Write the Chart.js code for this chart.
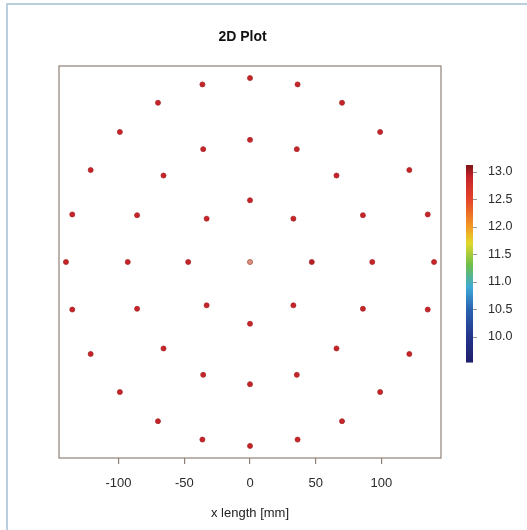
<!DOCTYPE html>
<html>
<head>
<meta charset="utf-8">
<script src="https://cdn.jsdelivr.net/npm/chart.js@4"></script>
<style>
  body { margin: 0; background: #fff; }
  #wrap { position: relative; width: 527px; height: 530px; }
  #frame {
    position: absolute; left: 6px; top: 3px; right: 0; bottom: 0;
    border-top: 2px solid #b9cfdd; border-left: 2px solid #b9cfdd;
    pointer-events: none;
  }
</style>
</head>
<body>
<div id="wrap">
  <canvas id="plot" width="527" height="530"></canvas>
  <div id="frame"></div>
</div>
<script>
'use strict';

// measuring points (x, y in mm) : centre, ring 47, ring 93, ring 140
const xPos = [
  0,
  0, 33, 47, 33, 0, -33, -47, -33,
  0, 35.6, 65.8, 85.9, 93, 85.9, 65.8, 35.6, 0, -35.6, -65.8, -85.9, -93, -85.9, -65.8, -35.6,
  0, 36.2, 70, 99, 121.2, 135.2, 140, 135.2, 121.2, 99, 70, 36.2,
  0, -36.2, -70, -99, -121.2, -135.2, -140, -135.2, -121.2, -99, -70, -36.2
];
const yPos = [
  0,
  47, 33, 0, -33, -47, -33, 0, 33,
  93, 85.9, 65.8, 35.6, 0, -35.6, -65.8, -85.9, -93, -85.9, -65.8, -35.6, 0, 35.6, 65.8, 85.9,
  140, 135.2, 121.2, 99, 70, 36.2, 0, -36.2, -70, -99, -121.2, -135.2,
  -140, -135.2, -121.2, -99, -70, -36.2, 0, 36.2, 70, 99, 121.2, 135.2
];
// measured value at each point (colour scale)
const thickness = [
  12.7,
  12.9, 12.9, 12.95, 12.9, 12.9, 12.9, 12.9, 12.9,
  12.9, 12.9, 12.9, 12.9, 12.9, 12.9, 12.9, 12.9, 12.9, 12.9, 12.9, 12.9, 12.9, 12.9, 12.9, 12.9,
  12.9, 12.9, 12.9, 12.9, 12.9, 12.9, 12.9, 12.9, 12.9, 12.9, 12.9, 12.9,
  12.9, 12.9, 12.9, 12.9, 12.9, 12.9, 12.9, 12.9, 12.9, 12.9, 12.9, 12.9
];

const xTicks = [-100, -50, 0, 50, 100];
const cbTicks = [10.0, 10.5, 11.0, 11.5, 12.0, 12.5, 13.0];
const cbRange = [9.53, 13.12];

// colour map stops (value, colour)
const cmapValues = [9.53, 10.0, 10.5, 10.9, 11.3, 11.7, 12.0, 12.5, 12.9, 13.12];
const cmapColours = ['#1f1f6b', '#23348a', '#2a63b0', '#3fa9d6', '#6cbf4a',
  '#e2d92a', '#f39a24', '#e4432a', '#c62428', '#7d1416'];

function hexToRgb(h) {
  return [parseInt(h.substr(1, 2), 16), parseInt(h.substr(3, 2), 16), parseInt(h.substr(5, 2), 16)];
}

function colourFor(v) {
  for (let i = 0; i < cmapValues.length - 1; i++) {
    if (v <= cmapValues[i + 1]) {
      let t = Math.max(0, (v - cmapValues[i]) / (cmapValues[i + 1] - cmapValues[i]));
      let a = hexToRgb(cmapColours[i]);
      let b = hexToRgb(cmapColours[i + 1]);
      let c = a.map((x, k) => Math.round(x + (b[k] - x) * t));
      return `rgb(${c[0]},${c[1]},${c[2]})`;
    }
  }
  return cmapColours[cmapColours.length - 1];
}

const points = [];
for (let i = 0; i < xPos.length; i++) {
  points.push({ x: xPos[i], y: yPos[i] });
}

const boxColour = '#8f8077';
const fontFamily = "'Liberation Sans', Arial, sans-serif";

// frame, title and colour bar
const extras = {
  id: 'extras',
  beforeDatasetsDraw(chart) {
    const ctx = chart.ctx;
    const a = chart.chartArea;
    ctx.save();
    ctx.strokeStyle = boxColour;
    ctx.lineWidth = 1.2;
    ctx.strokeRect(a.left, a.top, a.right - a.left, a.bottom - a.top);
    ctx.restore();
  },
  afterDraw(chart) {
    const ctx = chart.ctx;
    const cb = chart.scales.cb;
    ctx.save();
    // title
    ctx.fillStyle = '#111';
    ctx.font = `bold 14px ${fontFamily}`;
    ctx.textAlign = 'center';
    ctx.textBaseline = 'middle';
    ctx.fillText('2D Plot', 242.5, 37);

    // colour bar
    let top = cb.getPixelForValue(cbRange[1]);
    let bottom = cb.getPixelForValue(cbRange[0]);
    let left = cb.left + 25;
    let grad = ctx.createLinearGradient(0, bottom, 0, top);
    for (let i = 0; i < cmapValues.length; i++) {
      let t = (cmapValues[i] - cbRange[0]) / (cbRange[1] - cbRange[0]);
      grad.addColorStop(Math.min(1, Math.max(0, t)), cmapColours[i]);
    }
    ctx.fillStyle = grad;
    ctx.fillRect(left, top, 7, bottom - top);
    ctx.strokeStyle = '#999';
    ctx.lineWidth = 1;
    for (let i = 0; i < cbTicks.length; i++) {
      let y = Math.round(cb.getPixelForValue(cbTicks[i])) + 0.5;
      ctx.beginPath();
      ctx.moveTo(left + 7, y);
      ctx.lineTo(left + 11, y);
      ctx.stroke();
    }
    ctx.restore();
  }
};

const ctx = document.getElementById('plot').getContext('2d');
const chart = new Chart(ctx, {
  type: 'scatter',
  data: {
    datasets: [{
      label: 'thickness',
      data: points,
      pointRadius: 2.5,
      pointBorderWidth: 0.8,
      pointBackgroundColor: thickness.map((v, i) => i === 0 ? '#d99484' : colourFor(v)),
      pointBorderColor: thickness.map((v, i) => i === 0 ? '#a94a3c' : '#a8262a'),
    }]
  },
  plugins: [extras],
  options: {
    responsive: false,
    animation: false,
    layout: { padding: { left: 59, right: 0, top: 66, bottom: 0 } },
    plugins: {
      legend: { display: false },
      title: { display: false },
      tooltip: { enabled: false }
    },
    scales: {
      x: {
        type: 'linear',
        min: -145.3,
        max: 145.3,
        afterBuildTicks: (scale) => { scale.ticks = xTicks.map(v => ({ value: v })); },
        afterFit: (scale) => { scale.height = 72; },
        border: { display: false },
        grid: { drawOnChartArea: false, drawTicks: true, tickLength: 6, color: boxColour, lineWidth: 1.2 },
        ticks: { color: '#2a2a2a', padding: 12, font: { family: fontFamily, size: 13 } },
        title: {
          display: true,
          text: 'x length [mm]',
          color: '#222',
          font: { family: fontFamily, size: 13 },
          padding: { top: 0, bottom: 9 }
        }
      },
      y: {
        type: 'linear',
        min: -149.2,
        max: 149.2,
        display: false
      },
      cb: {
        axis: 'y',
        type: 'linear',
        position: 'right',
        min: 7.795,
        max: 14.92,
        afterBuildTicks: (scale) => { scale.ticks = cbTicks.map(v => ({ value: v })); },
        afterFit: (scale) => { scale.width = 86; },
        border: { display: false },
        grid: { display: false },
        ticks: {
          color: '#2a2a2a',
          padding: 39,
          font: { family: fontFamily, size: 12.5 },
          callback: (v) => Number(v).toFixed(1)
        }
      }
    }
  }
});
</script>
</body>
</html>
